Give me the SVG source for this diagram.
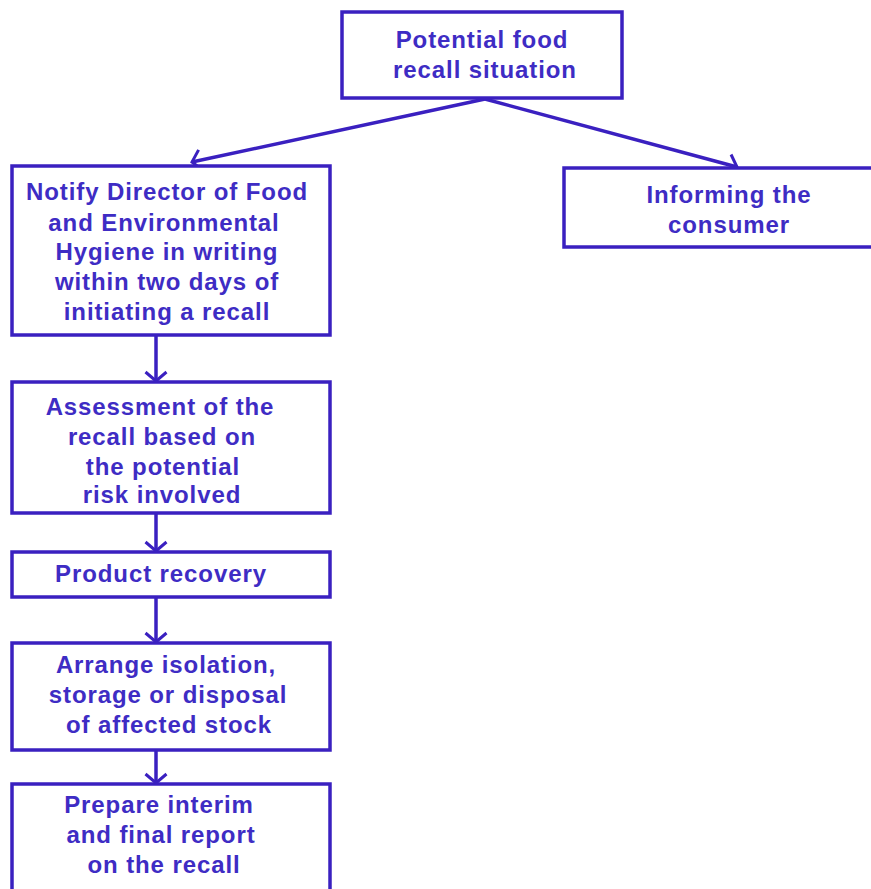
<svg xmlns="http://www.w3.org/2000/svg" width="871" height="889" viewBox="0 0 871 889">
<defs>
<style>
.box{fill:#fff;stroke:#3a20c0;stroke-width:3.5}
.t{font-family:"Liberation Sans",Arial,sans-serif;font-weight:bold;font-size:24px;letter-spacing:0.9px;fill:#3e2cc4;text-anchor:middle}
.c{fill:none;stroke:#3a20c0;stroke-width:3.5}
</style>
<marker id="ah" markerUnits="userSpaceOnUse" markerWidth="26" markerHeight="26" viewBox="-13 -13 26 26" refX="0" refY="0" orient="auto">
<path d="M-9,-10.5 L0,0 L-9,10.5" fill="none" stroke="#3a20c0" stroke-width="3"/>
</marker>
</defs>
<rect width="871" height="889" fill="#fff"/>
<g id="connectors">
<line class="c" x1="485" y1="99" x2="192" y2="162" marker-end="url(#ah)"/>
<line class="c" x1="485" y1="99" x2="737" y2="167" marker-end="url(#ah)"/>
<line class="c" x1="156" y1="336" x2="156" y2="381" marker-end="url(#ah)"/>
<line class="c" x1="156" y1="514" x2="156" y2="551" marker-end="url(#ah)"/>
<line class="c" x1="156" y1="598" x2="156" y2="642" marker-end="url(#ah)"/>
<line class="c" x1="156" y1="751" x2="156" y2="783" marker-end="url(#ah)"/>
</g>
<g id="n_top">
<rect class="box" x="342" y="12" width="280" height="86"/>
<text class="t" x="482" y="48">Potential food</text>
<text class="t" x="485" y="78">recall situation</text>
</g>
<g id="n_notify">
<rect class="box" x="12" y="166" width="318" height="169"/>
<text class="t" x="167" y="200">Notify Director of Food</text>
<text class="t" x="164" y="231">and Environmental</text>
<text class="t" x="167" y="260">Hygiene in writing</text>
<text class="t" x="167" y="290">within two days of</text>
<text class="t" x="167" y="320">initiating a recall</text>
</g>
<g id="n_inform">
<rect class="box" x="564" y="168" width="330" height="79"/>
<text class="t" x="729" y="203">Informing the</text>
<text class="t" x="729" y="233">consumer</text>
</g>
<g id="n_assess">
<rect class="box" x="12" y="382" width="318" height="131"/>
<text class="t" x="160" y="415">Assessment of the</text>
<text class="t" x="162" y="445">recall based on</text>
<text class="t" x="163" y="475">the potential</text>
<text class="t" x="162" y="503">risk involved</text>
</g>
<g id="n_recovery">
<rect class="box" x="12" y="552" width="318" height="45"/>
<text class="t" x="161" y="582">Product recovery</text>
</g>
<g id="n_arrange">
<rect class="box" x="12" y="643" width="318" height="107"/>
<text class="t" x="166" y="673">Arrange isolation,</text>
<text class="t" x="168" y="703">storage or disposal</text>
<text class="t" x="169" y="733">of affected stock</text>
</g>
<g id="n_report">
<rect class="box" x="12" y="784" width="318" height="130"/>
<text class="t" x="159" y="813">Prepare interim</text>
<text class="t" x="161" y="843">and final report</text>
<text class="t" x="164" y="873">on the recall</text>
</g>
</svg>
